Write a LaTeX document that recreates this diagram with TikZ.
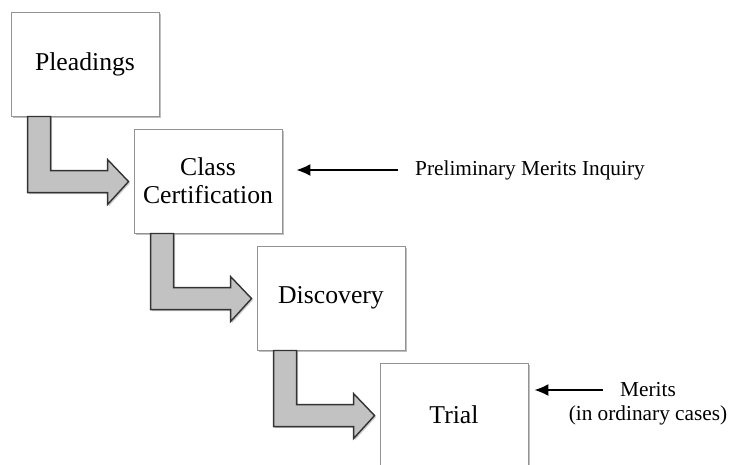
\documentclass[tikz,border=0pt]{standalone}
\usepackage{fontspec}
\setmainfont{Liberation Serif}
\usetikzlibrary{calc,shadows,arrows.meta}
\def\boxw{148}
\def\boxh{104}
\def\stepx{123}
\def\stepy{117}

\tikzset{
  stepbox/.style={draw=gray!85, fill=white, line width=0.9pt,
    minimum width=\boxw pt, minimum height=\boxh pt, align=center,
    font=\fontsize{25.7}{28}\selectfont,
    drop shadow={shadow xshift=2pt, shadow yshift=-2pt, fill=black, opacity=0.25}},
  bentarrow/.style={draw=black!80, fill=gray!48, line width=1.4pt,
    drop shadow={shadow xshift=1.5pt, shadow yshift=-1.5pt, fill=black, opacity=0.2}},
  note/.style={inner sep=0pt, font=\fontsize{21.3}{25}\selectfont},
  notearrow/.style={-{Latex[length=14pt,width=12pt]}, line width=1.4pt}
}

\begin{document}
\begin{tikzpicture}[x=1pt,y=-1pt]

\clip (0,0) rectangle (730,464);

\node[stepbox] (B0) at (85,64) {Pleadings};
\node[stepbox] (B1) at (85+\stepx,64+\stepy) {Class\\Certification};
\node[stepbox] (B2) at (85+2*\stepx,64+2*\stepy) {Discovery};
\node[stepbox] (B3) at (85+3*\stepx,64+3*\stepy) {Trial};

\foreach \a/\b in {B0/B1,B1/B2,B2/B3}
  \draw[bentarrow] ($(\a.south west)+(17,0)$) -- ($(\a.south west)+(40,0)$)
    -- ($(\a.south west |- \b.north west)+(40,42)$)
    -- ($(\b.north west)+(-26,42)$) -- ($(\b.north west)+(-26,31)$)
    -- ($(\b.north west)+(-5,53)$)
    -- ($(\b.north west)+(-26,76)$) -- ($(\b.north west)+(-26,64)$)
    -- ($(\a.south west |- \b.north west)+(17,64)$) -- cycle;

\node[note] (A1) at (530,170) {Preliminary Merits Inquiry};
\node[note] (A2) at (648,390) {Merits};
\node[note] (A3) at (648,415) {(in ordinary cases)};

\draw[notearrow, shorten <=17pt, shorten >=14pt] (A1.west) -- (A1.west -| B1.east);
\draw[notearrow, shorten <=17pt, shorten >=6pt] (A2.west) -- (A2.west -| B3.east);

\end{tikzpicture}
\end{document}
